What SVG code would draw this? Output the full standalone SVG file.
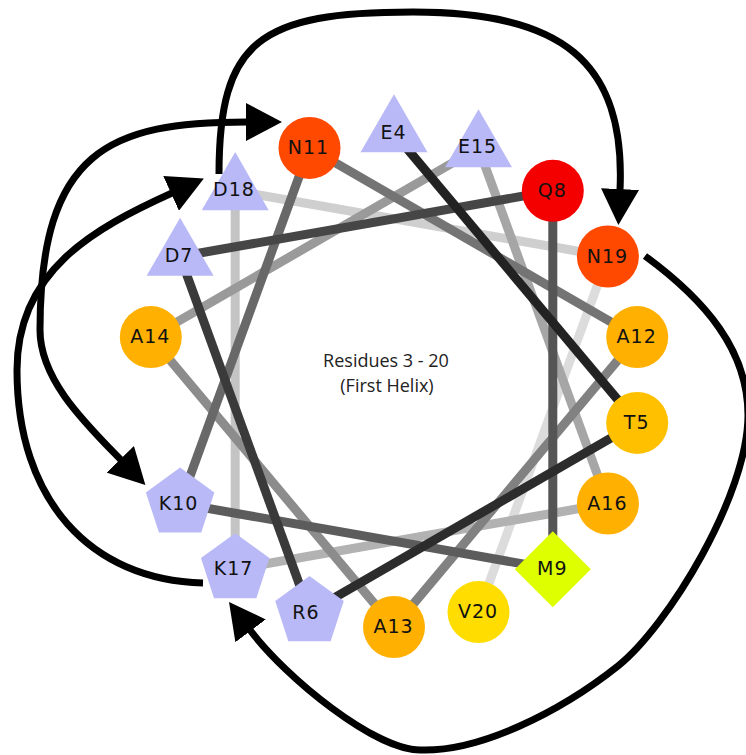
<svg xmlns="http://www.w3.org/2000/svg" width="746" height="755" viewBox="0 0 746 755">
  <style>
    .bond { fill: none; stroke-width: 9; stroke-linecap: butt; }
    .loop { fill: none; stroke: #000; stroke-width: 7; }
    .acid { fill: #b9b9f7; }
    .label { font-family: "DejaVu Sans", "Liberation Sans", sans-serif; font-size: 19px; letter-spacing: 1px; fill: #111; text-anchor: middle; }
    .title { font-family: "Open Sans", "Liberation Sans", sans-serif; font-size: 18px; fill: #222; text-anchor: middle; }
  </style>
  <defs>
    <polygon id="tri" points="0,-38.7 -33.5,19.35 33.5,19.35"/>
    <polygon id="pent" points="0,-36 34.24,-11.12 21.16,29.12 -21.16,29.12 -34.24,-11.12"/>
    <polygon id="diamond" points="0,-38 38,0 0,38 -38,0"/>
    <marker id="head" viewBox="0 0 36 38" refX="1" refY="19" markerWidth="36" markerHeight="38" markerUnits="userSpaceOnUse" orient="auto-start-reverse">
      <path d="M0,0 L36,19 L0,38 z" fill="#000"/>
    </marker>
  </defs>

  <rect width="746" height="755" fill="#fff"/>

  <!-- backbone of the helical wheel: residue n to n+1, fading along the sequence -->
  <g id="connectors">
    <line class="bond" stroke="#dcdcdc" x1="607.9" y1="256.5" x2="478.5" y2="612.1"/>
    <line class="bond" stroke="#cfcfcf" x1="235.2" y1="190.8" x2="607.9" y2="256.5"/>
    <line class="bond" stroke="#c4c4c4" x1="235.2" y1="569.2" x2="235.2" y2="190.8"/>
    <line class="bond" stroke="#b2b2b2" x1="607.9" y1="503.5" x2="235.2" y2="569.2"/>
    <line class="bond" stroke="#a6a6a6" x1="478.5" y1="147.9" x2="607.9" y2="503.5"/>
    <line class="bond" stroke="#9a9a9a" x1="150.8" y1="337.1" x2="478.5" y2="147.9"/>
    <line class="bond" stroke="#8c8c8c" x1="394" y1="627" x2="150.8" y2="337.1"/>
    <line class="bond" stroke="#818181" x1="637.2" y1="337.1" x2="394" y2="627"/>
    <line class="bond" stroke="#747474" x1="309.5" y1="147.9" x2="637.2" y2="337.1"/>
    <line class="bond" stroke="#686868" x1="180.1" y1="503.5" x2="309.5" y2="147.9"/>
    <line class="bond" stroke="#5c5c5c" x1="552.8" y1="569.2" x2="180.1" y2="503.5"/>
    <line class="bond" stroke="#555555" x1="552.8" y1="190.8" x2="552.8" y2="569.2"/>
    <line class="bond" stroke="#464646" x1="180.1" y1="256.5" x2="552.8" y2="190.8"/>
    <line class="bond" stroke="#3a3a3a" x1="309.5" y1="612.1" x2="180.1" y2="256.5"/>
    <line class="bond" stroke="#2c2c2c" x1="637.2" y1="422.9" x2="309.5" y2="612.1"/>
    <line class="bond" stroke="#222222" stroke-width="10" x1="394" y1="133" x2="637.2" y2="422.9"/>
  </g>

  <!-- curved arrows between residues -->
  <g id="arrows">
    <path class="loop" marker-end="url(#head)" d="M219,174 C219,40 260,12 413,12 C560,12 626,60 620,190"/>
    <path class="loop" marker-end="url(#head)" d="M645,256 C705,300 748,350 748,415 C748,495 668,626 618,666 C560,712 480,752 420,750 C375,750 286,678 250,630"/>
    <path class="loop" marker-start="url(#head)" marker-end="url(#head)" d="M121,460 C86,424 40,380 40,330 C40,150 110,122 247,122"/>
    <path class="loop" marker-end="url(#head)" d="M203,583 C90,580 17,500 17,370 C17,270 95,228 172,193"/>
  </g>

  <!-- residues -->
  <g id="E4"><use href="#tri" class="acid" x="394" y="133"/><text class="label" x="393.5" y="138.5">E4</text></g>
  <g id="T5"><circle cx="637.2" cy="422.9" r="31" fill="#ffc000"/><text class="label" x="636.7" y="428.5">T5</text></g>
  <g id="R6"><use href="#pent" class="acid" x="309.5" y="612.1"/><text class="label" x="306" y="618.5">R6</text></g>
  <g id="D7"><use href="#tri" class="acid" x="180.1" y="256.5"/><text class="label" x="179" y="262">D7</text></g>
  <g id="Q8"><circle cx="552.8" cy="190.8" r="31" fill="#f40000"/><text class="label" x="552.3" y="196.5">Q8</text></g>
  <g id="M9"><use href="#diamond" x="552.8" y="569.2" fill="#ddff00"/><text class="label" x="552.3" y="575">M9</text></g>
  <g id="K10"><use href="#pent" class="acid" x="180.1" y="503.5"/><text class="label" x="178.5" y="509.5">K10</text></g>
  <g id="N11"><circle cx="309.5" cy="147.9" r="31" fill="#ff4800"/><text class="label" x="308.5" y="153.5">N11</text></g>
  <g id="A12"><circle cx="637.2" cy="337.1" r="31" fill="#ffb000"/><text class="label" x="636.7" y="343">A12</text></g>
  <g id="A13"><circle cx="394" cy="627" r="31" fill="#ffb000"/><text class="label" x="393.5" y="633">A13</text></g>
  <g id="A14"><circle cx="150.8" cy="337.1" r="31" fill="#ffb000"/><text class="label" x="150.3" y="343">A14</text></g>
  <g id="E15"><use href="#tri" class="acid" x="478.5" y="147.9"/><text class="label" x="477.5" y="153">E15</text></g>
  <g id="A16"><circle cx="607.9" cy="503.5" r="31" fill="#ffb000"/><text class="label" x="607.4" y="509.5">A16</text></g>
  <g id="K17"><use href="#pent" class="acid" x="235.2" y="569.2"/><text class="label" x="233.5" y="575">K17</text></g>
  <g id="D18"><use href="#tri" class="acid" x="235.2" y="190.8"/><text class="label" x="234" y="196">D18</text></g>
  <g id="N19"><circle cx="607.9" cy="256.5" r="31" fill="#ff4800"/><text class="label" x="607.4" y="262.5">N19</text></g>
  <g id="V20"><circle cx="478.5" cy="612.1" r="31" fill="#ffdd00"/><text class="label" x="478" y="618">V20</text></g>

  <g id="caption">
    <text class="title" x="386" y="367">Residues 3 - 20</text>
    <text class="title" x="387" y="392">(First Helix)</text>
  </g>
</svg>
